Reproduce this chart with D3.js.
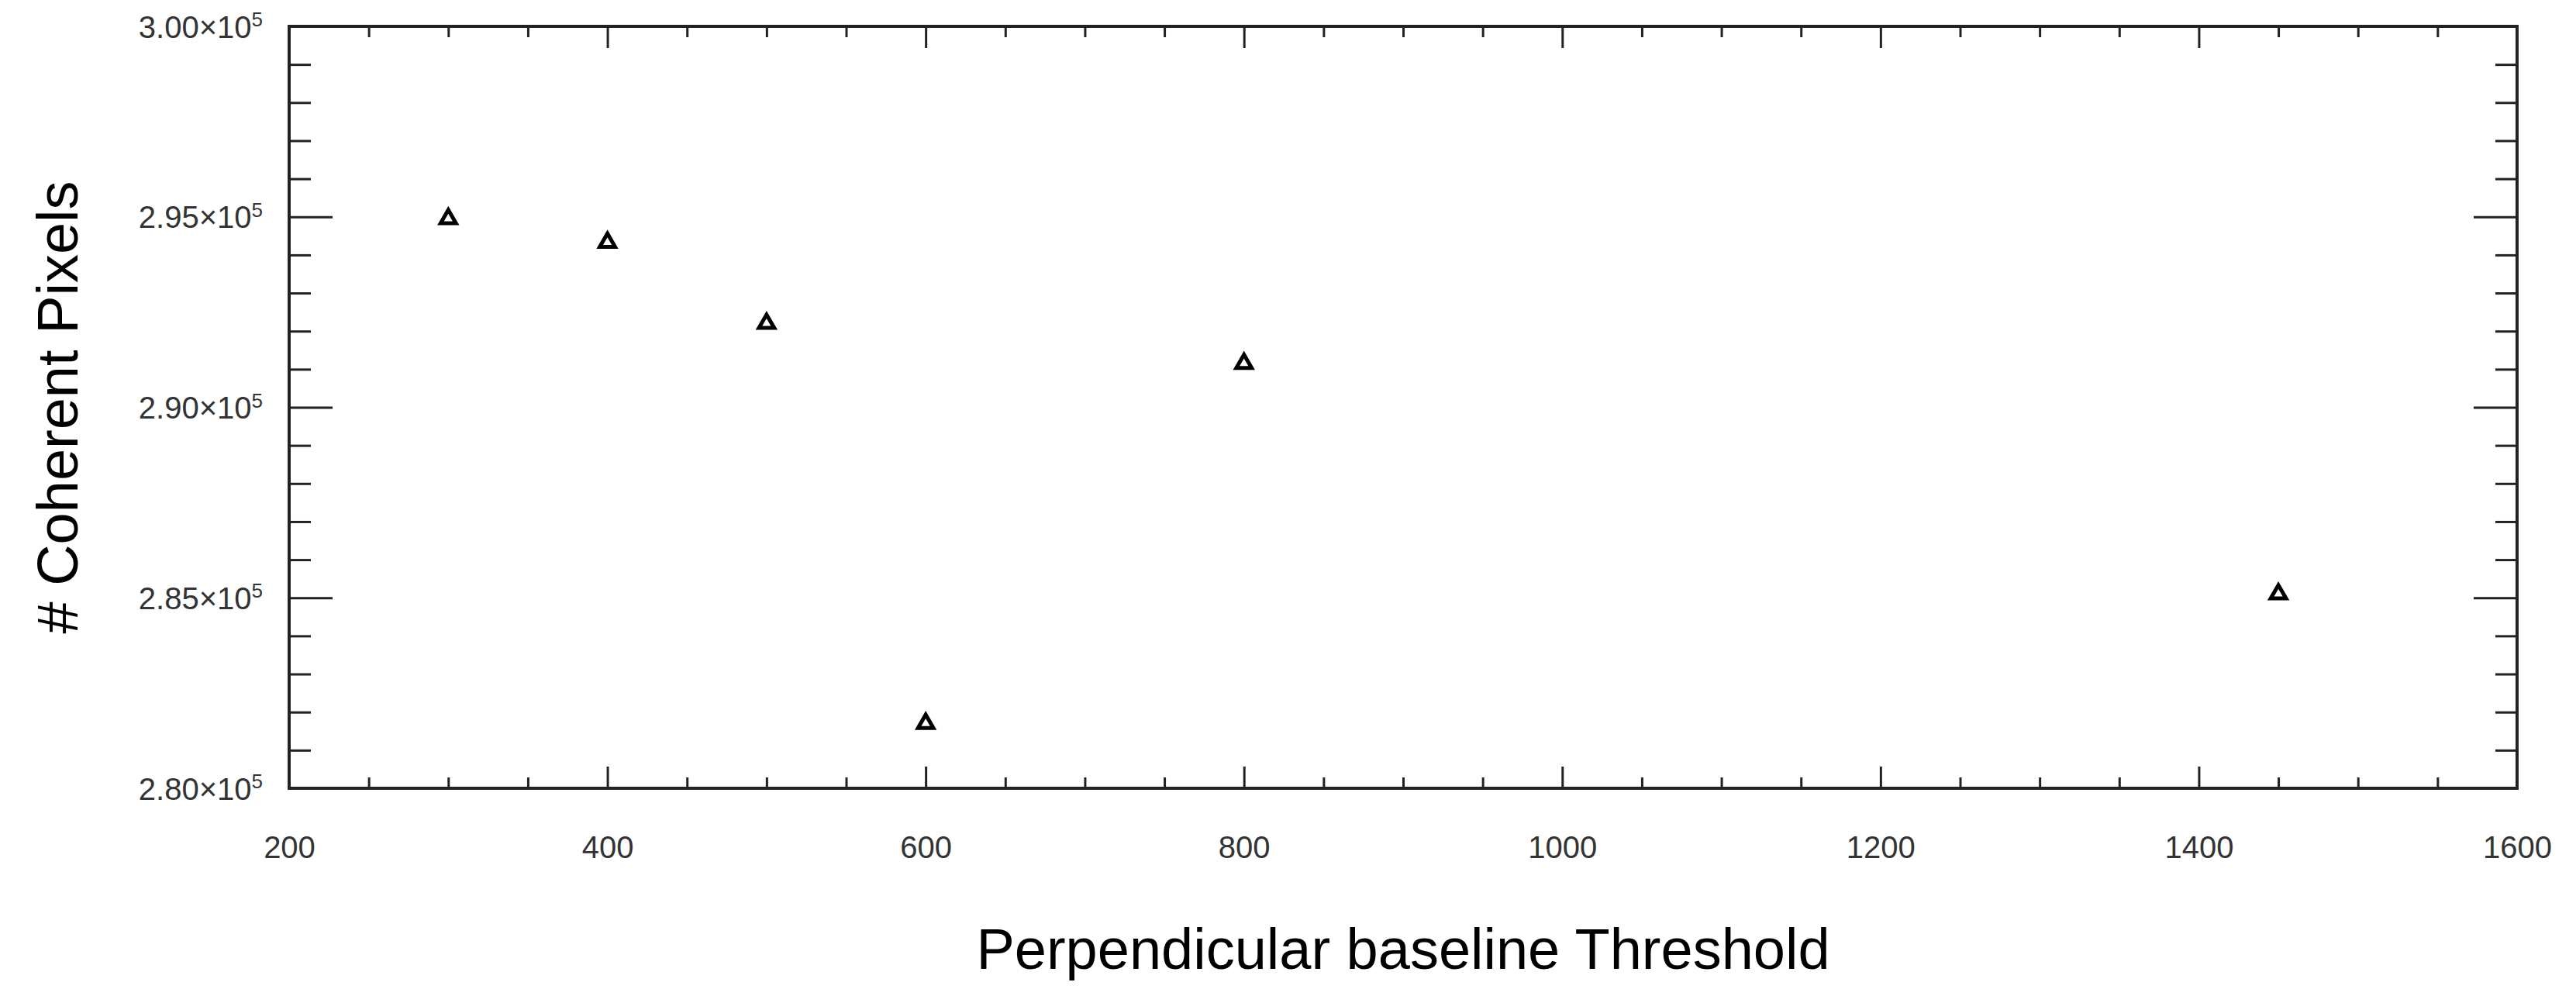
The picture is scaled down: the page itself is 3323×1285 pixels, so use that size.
<!DOCTYPE html>
<html lang="en">
<head>
  <meta charset="UTF-8">
  <script src="https://d3js.org/d3.v7.min.js"></script>
  <style>
    body { margin: 0; background: #fff; }
    .tick text { font-family: "Liberation Sans", Arial, sans-serif; font-size: 40px; fill: #333; }
  </style>
</head>
<body>
  <svg width="3323" height="1285"></svg>
  <script>
    const thresholds = [300, 400, 500, 600, 800, 1450];
    const coherentPixels = [294950, 294330, 292200, 281700, 291150, 285100];
    const xTicks = [200, 400, 600, 800, 1000, 1200, 1400, 1600];
    const yTicks = [280000, 285000, 290000, 295000, 300000];
    const xTitle = "Perpendicular baseline Threshold";
    const yTitle = "# Coherent Pixels";

    const svg = d3.select("svg");
    const margin = {top: 34, right: 76, bottom: 268, left: 373};
    const w = 3323 - margin.left - margin.right,
          h = 1285 - margin.top - margin.bottom;
    const g = svg.append("g").attr("transform", `translate(${margin.left},${margin.top})`);

    const x = d3.scaleLinear().domain([200, 1600]).range([0, w]);
    const y = d3.scaleLinear().domain([280000, 300000]).range([h, 0]);

    const xMinor = d3.range(200, 1601, 50).filter(v => v % 200 !== 0);
    const yMinor = d3.range(280000, 300001, 1000).filter(v => v % 5000 !== 0);

    // minor ticks on all four sides
    const minorX = (axis, ty) => g.append("g").attr("transform", `translate(0,${ty})`)
      .call(axis(x).tickValues(xMinor).tickSize(-14).tickFormat(""))
      .call(a => a.select(".domain").remove());
    minorX(d3.axisBottom, h); minorX(d3.axisTop, 0);
    const minorY = (axis, tx) => g.append("g").attr("transform", `translate(${tx},0)`)
      .call(axis(y).tickValues(yMinor).tickSize(-28).tickFormat(""))
      .call(a => a.select(".domain").remove());
    minorY(d3.axisLeft, 0); minorY(d3.axisRight, w);

    // major ticks
    g.append("g").attr("transform", `translate(0,${h})`)
      .call(d3.axisBottom(x).tickValues(xTicks).tickSize(-28).tickPadding(62).tickFormat(d3.format("d")))
      .call(a => a.select(".domain").remove());
    g.append("g")
      .call(d3.axisTop(x).tickValues(xTicks).tickSize(-28).tickFormat(""))
      .call(a => a.select(".domain").remove());
    const yl = g.append("g")
      .call(d3.axisLeft(y).tickValues(yTicks).tickSize(-56).tickPadding(34).tickFormat(""))
      .call(a => a.select(".domain").remove());
    yl.selectAll(".tick text").attr("dy", "0.35em").each(function(d) {
      const t = d3.select(this);
      t.append("tspan").text((d / 1e5).toFixed(2) + "\u00d710");
      t.append("tspan").attr("dy", "-0.55em").attr("font-size", "26px").text("5");
    });
    g.append("g").attr("transform", `translate(${w},0)`)
      .call(d3.axisRight(y).tickValues(yTicks).tickSize(-56).tickFormat(""))
      .call(a => a.select(".domain").remove());
    g.selectAll(".tick line").attr("stroke", "#222").attr("stroke-width", 3);

    g.append("rect").attr("width", w).attr("height", h)
      .attr("fill", "none").attr("stroke", "#222").attr("stroke-width", 4);

    const tri = d3.symbol().type(d3.symbolTriangle).size(170);
    g.selectAll(".pt").data(thresholds).join("path")
      .attr("class", "pt")
      .attr("transform", (d, i) => `translate(${x(d)},${y(coherentPixels[i])})`)
      .attr("d", tri)
      .attr("fill", "#fff").attr("stroke", "#000").attr("stroke-width", 5);

    svg.append("text").attr("x", margin.left + w / 2).attr("y", 1250)
      .attr("text-anchor", "middle")
      .style("font-family", "Liberation Sans, Arial, sans-serif").style("font-size", "74px")
      .text(xTitle);
    svg.append("text").attr("transform", `translate(100,${margin.top + h / 2}) rotate(-90)`)
      .attr("text-anchor", "middle")
      .style("font-family", "Liberation Sans, Arial, sans-serif").style("font-size", "74px")
      .text(yTitle);
  </script>
</body>
</html>
